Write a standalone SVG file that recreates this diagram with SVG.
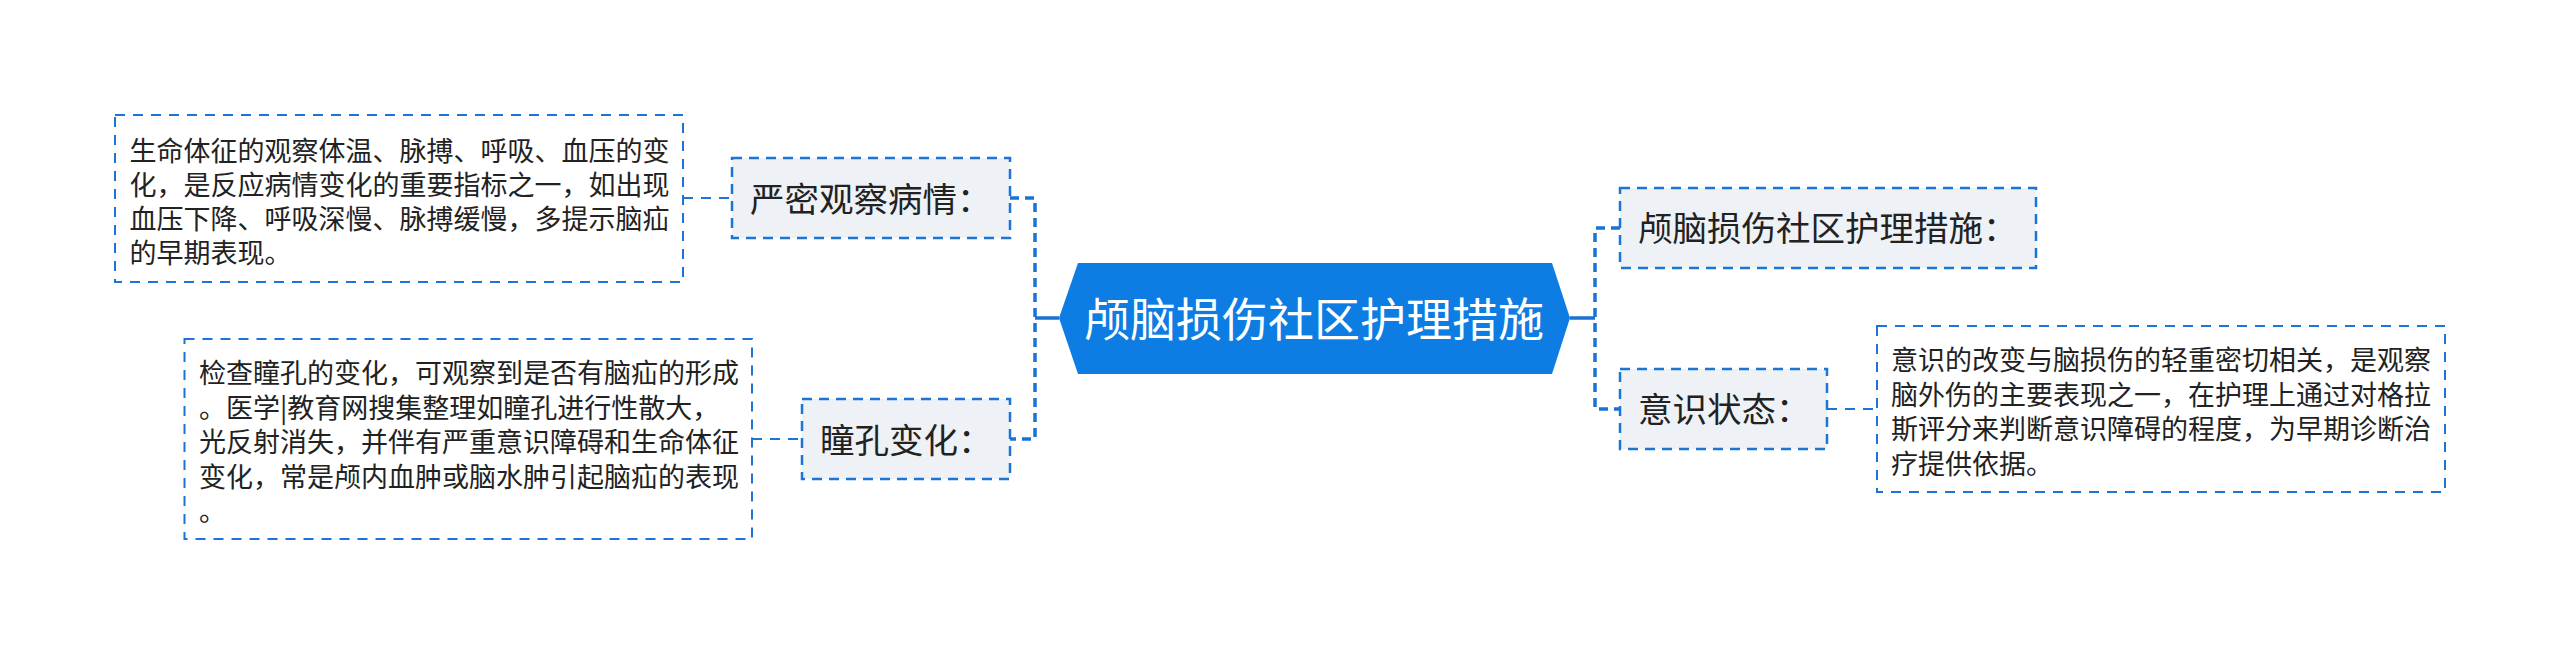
<svg xmlns="http://www.w3.org/2000/svg" width="2560" height="655" viewBox="0 0 2560 655">
<style>
.bg{fill:#ffffff}
.detail rect{fill:#ffffff;stroke:#1c74d4;stroke-width:2;stroke-dasharray:10 8}
.topic rect{fill:#eef1f5;stroke:#1c74d4;stroke-width:2.5;stroke-dasharray:10 7}
.detail text{font-family:"Noto Sans CJK SC","Noto Sans",sans-serif;font-size:27px;fill:#222222}
.topic text{font-family:"Noto Sans CJK SC","Noto Sans",sans-serif;font-size:34.5px;fill:#222222}
.root text{font-family:"Noto Sans CJK SC","Noto Sans",sans-serif;font-size:46px;fill:#ffffff}
.root polygon{fill:#0d7de3}
.thick{fill:none;stroke:#1a72d4;stroke-width:3.5;stroke-dasharray:9 6}
.solid{fill:none;stroke:#1a72d4;stroke-width:3.5}
.thin{fill:none;stroke:#1c74d4;stroke-width:2;stroke-dasharray:10 8}
</style>
<rect class="bg" x="0" y="0" width="2560" height="655"/>
<g id="connectors">
  <path class="solid" d="M1059,318 H1035"/>
  <path class="thick" d="M1010,198 H1035 V439 H1010"/>
  <path class="solid" d="M1570,318 H1595"/>
  <path class="thick" d="M1620,228 H1595 V409 H1620"/>
  <path class="thin" d="M683,198 H732"/>
  <path class="thin" d="M752,439 H802"/>
  <path class="thin" d="M1827,409 H1877"/>
</g>
<g id="root" class="root">
  <polygon points="1059,318 1078,263 1552,263 1570,318 1552,374 1078,374"/>
  <text x="1314" y="335.5" text-anchor="middle">颅脑损伤社区护理措施</text>
</g>
<g id="topic-observe" class="topic">
  <rect x="732" y="158" width="278" height="80"/>
  <text x="750" y="211.5">严密观察病情：</text>
</g>
<g id="topic-pupil" class="topic">
  <rect x="802" y="399" width="208" height="80"/>
  <text x="820" y="452.5">瞳孔变化：</text>
</g>
<g id="topic-measures" class="topic">
  <rect x="1620" y="188" width="416" height="80"/>
  <text x="1638" y="241">颅脑损伤社区护理措施：</text>
</g>
<g id="topic-consciousness" class="topic">
  <rect x="1620" y="369" width="207" height="80"/>
  <text x="1638" y="422">意识状态：</text>
</g>
<g id="detail-observe" class="detail">
  <rect x="115" y="115" width="568" height="167"/>
  <text x="129.5" y="161">生命体征的观察体温、脉搏、呼吸、血压的变</text>
  <text x="129.5" y="195">化，是反应病情变化的重要指标之一，如出现</text>
  <text x="129.5" y="229">血压下降、呼吸深慢、脉搏缓慢，多提示脑疝</text>
  <text x="129.5" y="263">的早期表现。</text>
</g>
<g id="detail-pupil" class="detail">
  <rect x="184.5" y="339" width="567.5" height="200"/>
  <text x="199" y="383">检查瞳孔的变化，可观察到是否有脑疝的形成</text>
  <text x="199" y="417.5">。医学|教育网搜集整理如瞳孔进行性散大，</text>
  <text x="199" y="452">光反射消失，并伴有严重意识障碍和生命体征</text>
  <text x="199" y="486.5">变化，常是颅内血肿或脑水肿引起脑疝的表现</text>
  <text x="199" y="521">。</text>
</g>
<g id="detail-consciousness" class="detail">
  <rect x="1877" y="326" width="568" height="166"/>
  <text x="1891" y="370">意识的改变与脑损伤的轻重密切相关，是观察</text>
  <text x="1891" y="404.5">脑外伤的主要表现之一，在护理上通过对格拉</text>
  <text x="1891" y="439">斯评分来判断意识障碍的程度，为早期诊断治</text>
  <text x="1891" y="473.5">疗提供依据。</text>
</g>
</svg>
